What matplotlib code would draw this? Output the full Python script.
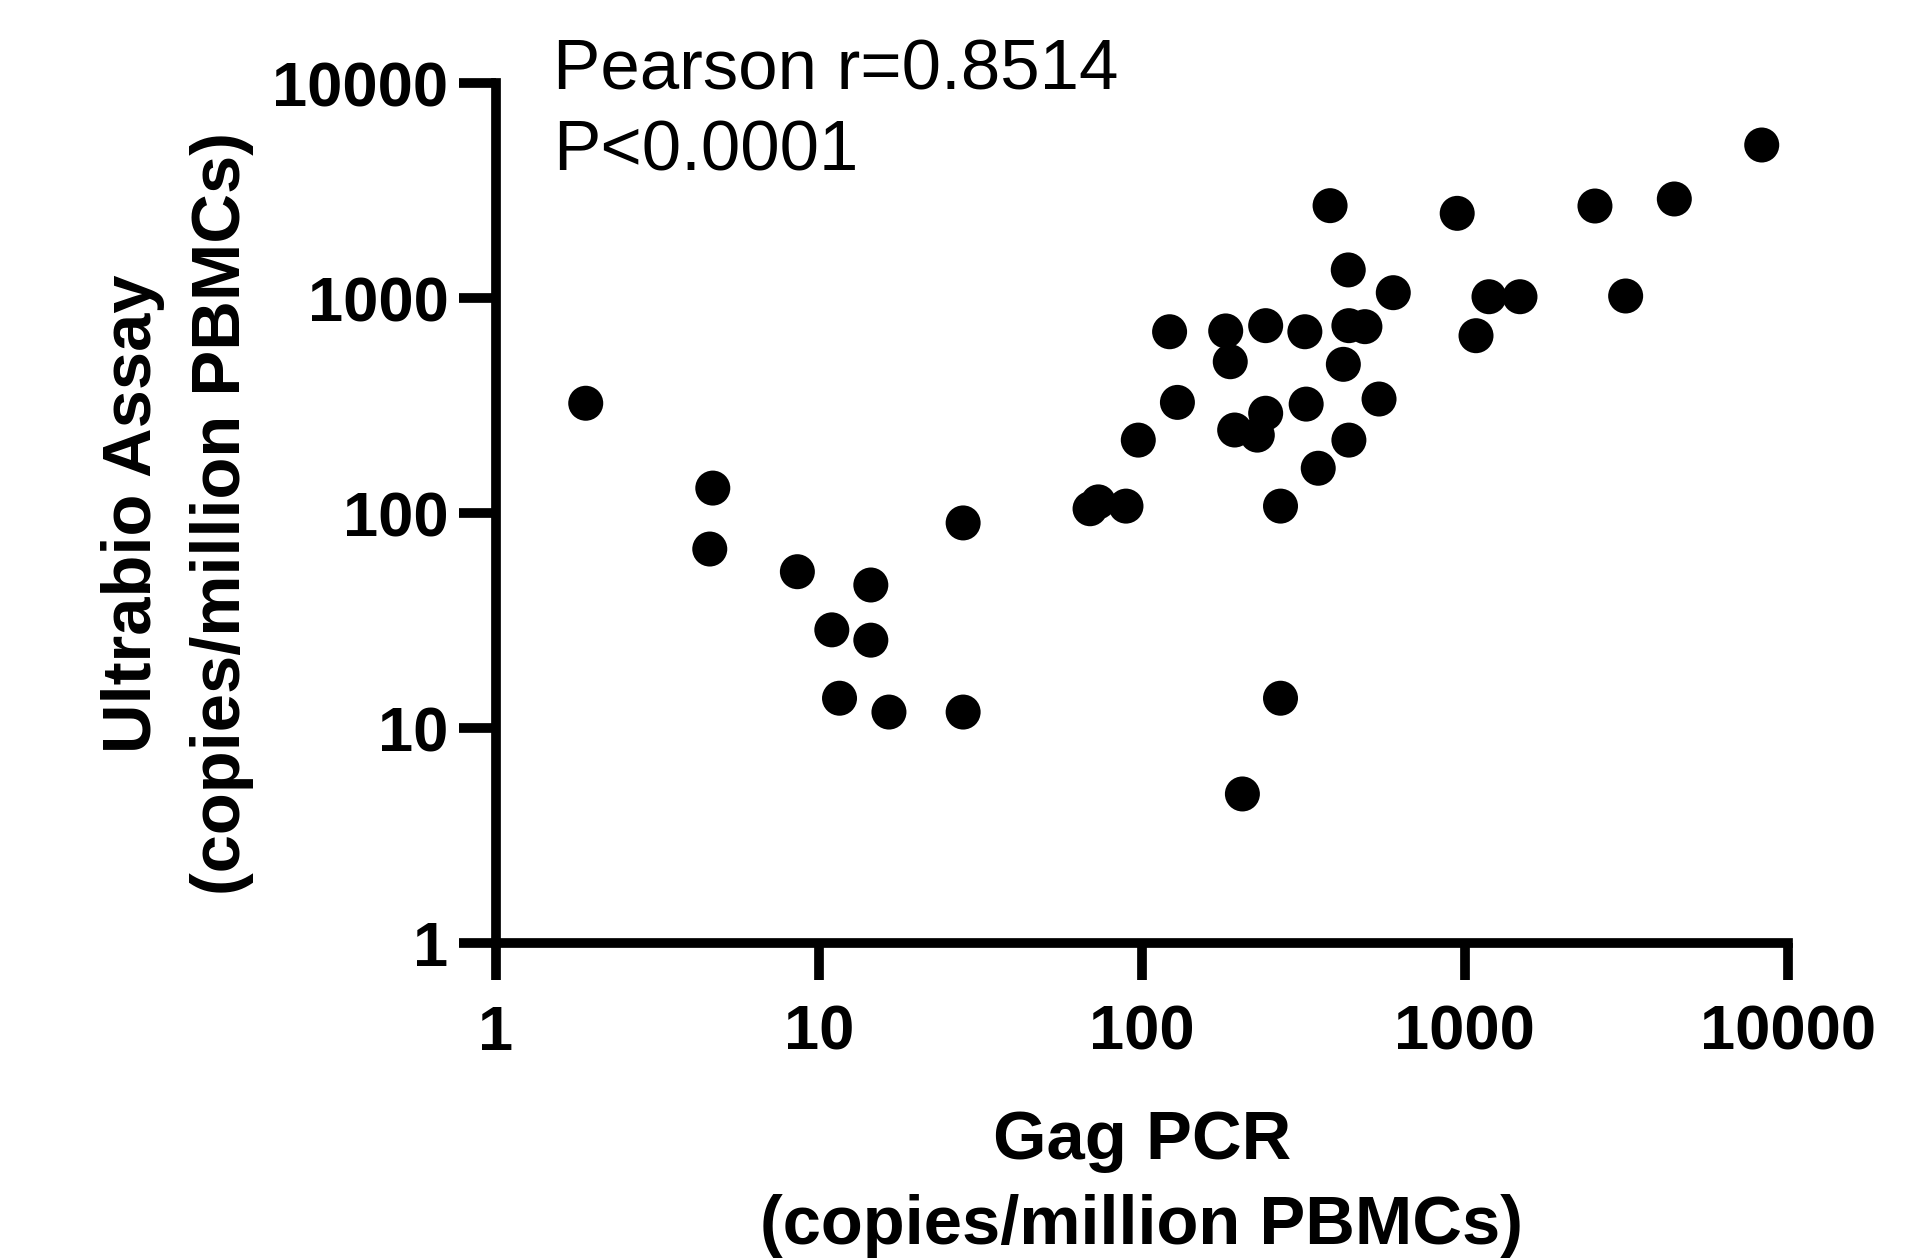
import matplotlib
matplotlib.use("Agg")
import matplotlib.pyplot as plt
from matplotlib.ticker import FixedLocator, FixedFormatter, NullLocator

plt.rcParams['font.family'] = ['Liberation Sans', 'DejaVu Sans']

# Data (copies/million PBMCs)
gag_pcr = [383, 948, 436, 601, 1189, 1084, 122, 182, 242, 320, 438, 491, 188, 421,
           129, 242, 194, 228, 323, 543, 97.6, 438, 352, 269, 73.4, 69.2, 89.4,
           8310, 2531, 4456, 1483, 3150,
           1.90, 4.70, 4.60, 8.59, 14.5, 28.0, 10.98, 14.5, 11.6, 16.5, 28.0,
           269, 205]
ultrabio = [2697, 2484, 1355, 1062, 1017, 670, 699, 705, 746, 699, 746, 738, 507, 493,
            328, 292, 244, 231, 322, 340, 219, 219, 162, 108, 113, 105, 108,
            5164, 2687, 2897, 1017, 1025,
            325, 131, 68.2, 53.5, 46.4, 90.2, 28.7, 25.7, 13.8, 11.9, 11.9,
            13.8, 4.95]

tick_vals = [1, 10, 100, 1000, 10000]
tick_labels = ["1", "10", "100", "1000", "10000"]

annot_r = "Pearson r=0.8514"
annot_p = "P<0.0001"
xlabel = "Gag PCR\n(copies/million PBMCs)"
ylabel = "Ultrabio Assay\n(copies/million PBMCs)"

W, H = 1924, 1259
fig = plt.figure(figsize=(W / 100, H / 100), dpi=100)
ax_left, ax_right, ax_top, ax_bottom = 495.7, 1787.7, 83.3, 943.3
ax = fig.add_axes([ax_left / W, 1 - ax_bottom / H,
                   (ax_right - ax_left) / W, (ax_bottom - ax_top) / H])

ax.scatter(gag_pcr, ultrabio, s=635, c='black', edgecolors='none', zorder=3, clip_on=False)

ax.set_xscale('log')
ax.set_yscale('log')
ax.set_xlim(1, 10000)
ax.set_ylim(1, 10000)
for axis in (ax.xaxis, ax.yaxis):
    axis.set_major_locator(FixedLocator(tick_vals))
    axis.set_major_formatter(FixedFormatter(tick_labels))
    axis.set_minor_locator(NullLocator())

for side in ('top', 'right'):
    ax.spines[side].set_visible(False)
for side in ('left', 'bottom'):
    ax.spines[side].set_linewidth(7)
    ax.spines[side].set_capstyle('projecting')
    ax.spines[side].set_color('black')

ax.tick_params(axis='both', which='major', direction='out', length=26.5, width=7,
               color='black', labelsize=45.5)
ax.tick_params(axis='x', pad=17)
ax.tick_params(axis='y', pad=7.5)
for lab in ax.get_xticklabels() + ax.get_yticklabels():
    lab.set_fontweight('bold')

ax.set_xlabel(xlabel, fontsize=49.5, fontweight='bold', linespacing=1.42)
ax.set_ylabel(ylabel, fontsize=49.5, fontweight='bold', linespacing=1.5)
ax.xaxis.set_label_coords(0.5, -0.1931)
ax.yaxis.set_label_coords(-0.1872, 0.5)

fig.text(553 / W, 1 - 89.3 / H, annot_r, fontsize=51, va='baseline', ha='left')
fig.text(553 / W, 1 - 170.7 / H, annot_p, fontsize=51, va='baseline', ha='left')

fig.savefig("out.png", dpi=100, facecolor='white')
